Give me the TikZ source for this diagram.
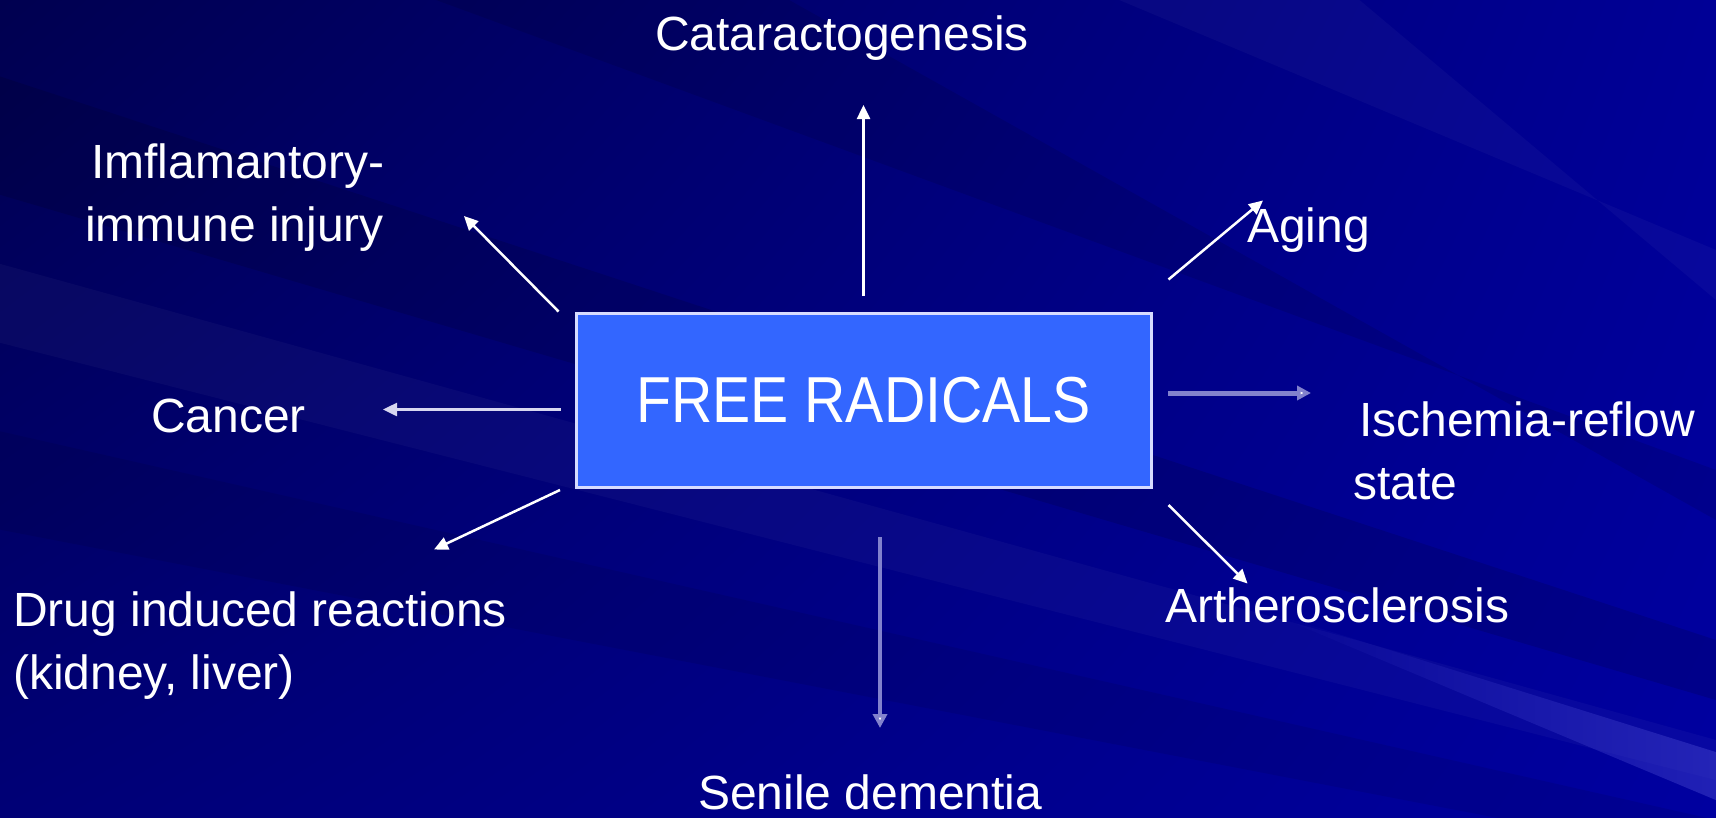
\documentclass[tikz,border=0pt]{standalone}
\usepackage{fontspec}
\setmainfont{Liberation Sans}
\usetikzlibrary{arrows.meta,calc,shadings,fadings}
\definecolor{boxblue}{RGB}{51,102,255}
\definecolor{boxedge}{RGB}{215,220,255}
\definecolor{bgUL}{RGB}{0,0,80}
\definecolor{bgUR}{RGB}{0,0,150}
\definecolor{bgLL}{RGB}{0,0,118}
\definecolor{bgLR}{RGB}{0,0,160}
\definecolor{arrlav}{RGB}{130,130,205}
\definecolor{arrpale}{RGB}{215,215,240}
\definecolor{streak}{RGB}{60,60,200}
\tikzfading[name=fadeleft, left color=transparent!100, right color=transparent!0]
\newcommand\twoline[2]{\begin{tabular}[t]{@{}l@{}}#1\\#2\end{tabular}}
\begin{document}
\begin{tikzpicture}[x=1pt,y=-1pt,
  lbl/.style={text=white, inner sep=0pt, anchor=base west, font=\fontsize{48}{63.5}\selectfont},
  box/.style={draw=boxedge, line width=3pt, fill=boxblue, minimum width=575pt, minimum height=174pt, inner sep=0pt, text=white, font=\fontsize{65}{70}\selectfont},
  arr/.style={draw=white, line width=2.5pt, -{Triangle[length=14pt,width=13pt]}},
  arrsoft/.style={arr, draw=arrpale},
  arrthick/.style={draw=arrlav, line width=5pt, -{Triangle[length=14pt,width=14pt,fill=white]}}
]
\useasboundingbox (0,0) rectangle (1716,817);
% background
\shade[upper left=bgUL, upper right=bgUR, lower left=bgLL, lower right=bgLR] (0,0) rectangle (1716,817);
\begin{scope}
\clip (0,0) rectangle (1716,817);
% subtle diagonal bands
\fill[black, opacity=0.12] (-50,60) -- (-50,180) -- (1716,700) -- (1716,640) -- cycle;
\fill[black, opacity=0.08] (-50,420) -- (-50,520) -- (1716,860) -- (1716,820) -- cycle;
\fill[white, opacity=0.03] (-50,250) -- (-50,330) -- (1716,780) -- (1716,740) -- cycle;
\fill[black, opacity=0.10] (300,-50) -- (700,-50) -- (1716,520) -- (1716,470) -- cycle;
\fill[white, opacity=0.03] (1000,-50) -- (1300,-50) -- (1716,300) -- (1716,250) -- cycle;
% bright streak lower right
\fill[streak, opacity=0.55, path fading=fadeleft] (1265,611) -- (1716,752) -- (1716,800) -- cycle;
\end{scope}
% central box
\node[box] (fr) at (863.5,400.4) {\scalebox{0.88}[1]{FREE RADICALS}};
% labels
\node[lbl] (cat) at (655,50) {Cataractogenesis};
\node[lbl] (inf) at (85,178) {\twoline{\hspace{6pt}Imflamantory-}{immune injury}};
\node[lbl] (age) at (1247,242) {Aging};
\node[lbl] (can) at (151,432) {Cancer};
\node[lbl] (isc) at (1353,436) {\twoline{\hspace{6pt}Ischemia-reflow}{state}};
\node[lbl] (drg) at (13,626) {\twoline{Drug induced reactions}{(kidney, liver)}};
\node[lbl] (ath) at (1165,622) {Artherosclerosis};
\node[lbl] (sen) at (698,809) {Senile dementia};
% arrow end points
\coordinate (sUp) at (863.5,296);   \coordinate (tUp) at (863.5,105);
\coordinate (sInf) at (558.5,311.5); \coordinate (tInf) at (464,216);
\coordinate (sAge) at (1168.5,279.5); \coordinate (tAge) at (1263,200.5);
\coordinate (sCan) at (560.5,409.5); \coordinate (tCan) at (383,409.5);
\coordinate (sIsc) at (1168,393);   \coordinate (tIsc) at (1311,393);
\coordinate (sDrg) at (560,490);    \coordinate (tDrg) at (434,549.5);
\coordinate (sAth) at (1168.5,505); \coordinate (tAth) at (1247.5,583.5);
\coordinate (sSen) at (880,537);    \coordinate (tSen) at (880,728);
% connectors
\draw[arr] (sUp) -- (tUp);
\draw[arr] (sInf) -- (tInf);
\draw[arr] (sAge) -- (tAge);
\draw[arrsoft] (sCan) -- (tCan);
\draw[arrthick] (sIsc) -- (tIsc);
\draw[arr] (sDrg) -- (tDrg);
\draw[arr] (sAth) -- (tAth);
\draw[arrthick, line width=4.5pt] (sSen) -- (tSen);
\end{tikzpicture}
\end{document}
